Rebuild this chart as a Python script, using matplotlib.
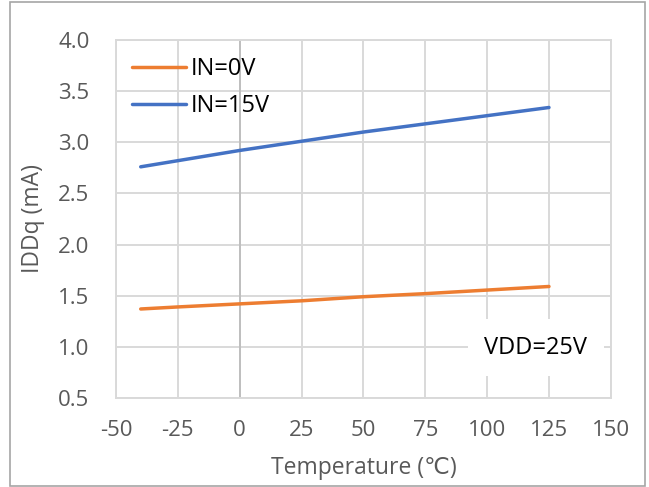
import matplotlib.pyplot as plt
from matplotlib.patches import Rectangle

# temperatures (deg C) and quiescent current (mA)
temps = [-40, -25, 0, 25, 50, 75, 100, 125]
idd_in0 = [1.37, 1.39, 1.42, 1.45, 1.49, 1.52, 1.555, 1.59]
idd_in15 = [2.76, 2.82, 2.92, 3.01, 3.10, 3.18, 3.26, 3.34]

x_ticks = [-50, -25, 0, 25, 50, 75, 100, 125, 150]
y_ticks = [0.5, 1.0, 1.5, 2.0, 2.5, 3.0, 3.5, 4.0]

plt.rcParams['font.family'] = ['Open Sans', 'DejaVu Sans']
plt.rcParams['axes.unicode_minus'] = False

fig = plt.figure(figsize=(6.49, 4.87), dpi=100)
# outer chart border
fig.patches.append(Rectangle((10 / 649, 1 / 487), 635 / 649, 484 / 487,
                             transform=fig.transFigure, fill=False,
                             edgecolor="#a6a6a6", lw=1.2))

ax = fig.add_axes([0.1787, 0.1828, 0.7625, 0.7351])
ax.plot(temps, idd_in0, color="#ed7d31", lw=2.5, label="IN=0V",
        solid_capstyle="round", zorder=3)
ax.plot(temps, idd_in15, color="#4472c4", lw=2.5, label="IN=15V",
        solid_capstyle="round", zorder=3)

ax.set_xlim(-50, 150)
ax.set_ylim(0.5, 4.0)
ax.set_xticks(x_ticks)
ax.set_yticks(y_ticks)
ax.set_yticklabels([f"{v:.1f}" for v in y_ticks])
ax.grid(True, color="#d9d9d9", lw=1.4)
ax.set_axisbelow(True)
for s in ax.spines.values():
    s.set_color("#d9d9d9")
    s.set_linewidth(1.4)
ax.axvline(0, color="#bfbfbf", lw=1.4, zorder=1)
ax.tick_params(axis="x", length=0, labelsize=16, labelcolor="#595959", pad=16)
ax.tick_params(axis="y", length=0, labelsize=16, labelcolor="#595959", pad=19)

ax.set_xlabel("Temperature (℃)", fontsize=16.5, color="#595959")
ax.set_ylabel("IDDq (mA)", fontsize=16.5, color="#595959")
ax.xaxis.set_label_coords(0.5, -0.162)
ax.yaxis.set_label_coords(-0.144, 0.5)

leg = ax.legend(loc="upper left", bbox_to_anchor=(0.0324, 0.953), frameon=False,
                fontsize=17, handlelength=2.3, handletextpad=0.2,
                labelspacing=0.57, borderpad=0, borderaxespad=0)
for t in leg.get_texts():
    t.set_color("black")

# VDD note on a white box covering the grid
ax.text(0.848, 0.140, "VDD=25V", transform=ax.transAxes, fontsize=17,
        ha="center", va="center", color="black", zorder=4,
        bbox=dict(boxstyle="square,pad=0.7", fc="white", ec="none"))

fig.savefig("out.png", dpi=100)
